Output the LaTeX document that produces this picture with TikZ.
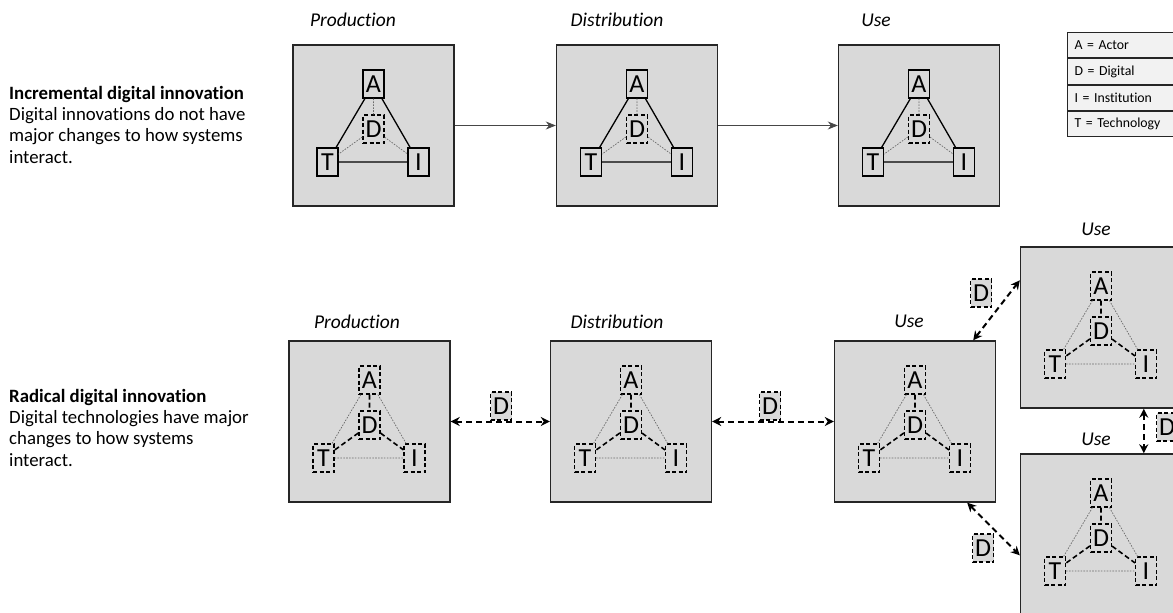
\documentclass[tikz,border=0pt]{standalone}
\usepackage{fontspec}
\setmainfont{Carlito}[Ligatures=NoCommon]
\usetikzlibrary{arrows.meta,calc}
\definecolor{panelgray}{HTML}{D9D9D9}
\definecolor{leggray}{HTML}{F2F2F2}
\definecolor{edgegray}{HTML}{262626}

\tikzset{
  panel/.style={draw=edgegray, line width=1.4pt, fill=panelgray,
    minimum width=161pt, minimum height=161pt, inner sep=0pt},
  letter/.style={font=\fontsize{26}{26}\selectfont, minimum width=21pt,
    minimum height=28pt, inner sep=0pt, line width=1.1pt, draw=black},
  dashletter/.style={letter, dash pattern=on 4pt off 2.5pt},
  dlabel/.style={dashletter, fill=panelgray},
  stagelabel/.style={font=\itshape\fontsize{19.5}{19.5}\selectfont, inner sep=0pt},
  desc/.style={align=left, inner sep=0pt, font=\fontsize{18.8}{21.3}\selectfont},
  legrow/.style={draw=edgegray, line width=1pt, fill=leggray, anchor=north west,
    text width=92pt, align=left, inner xsep=7pt, inner ysep=0pt,
    minimum height=25.3pt, font=\fontsize{13.8}{13.8}\selectfont},
  firm/.style={line width=1.3pt, black},
  hairdot/.style={line width=0.7pt, gray!85!black, dash pattern=on 1.6pt off 1.3pt},
  heavydash/.style={line width=1.6pt, black, dash pattern=on 5pt off 3pt},
  flow/.style={line width=0.9pt, gray!55!black, -{Stealth[length=10pt,width=8pt]}},
  dlink/.style={line width=2pt, black, dash pattern=on 6pt off 4pt,
    {Stealth[length=9pt,width=9pt]}-{Stealth[length=9pt,width=9pt]}},
}

% #1 name, #2 centre x, #3 top y, #4 style of A/T/I, #5 outer edges, #6 edges to D
\newcommand\triad[6]{%
  \node[panel] (#1) at (#2,#3+80.5) {};
  \node[#4] (#1A) at (#2,#3+39) {A};
  \node[dashletter] (#1D) at (#2,#3+84) {D};
  \node[#4] (#1T) at (#2-46,#3+117) {T};
  \node[#4] (#1I) at (#2+45,#3+117) {I};
  \draw[#5] (#1A) -- (#1T) (#1A) -- (#1I) (#1T) -- (#1I);
  \draw[#6] (#1A) -- (#1D) (#1D) -- (#1T) (#1D) -- (#1I);
}

\begin{document}
\begin{tikzpicture}[x=1pt, y=-1pt]
\useasboundingbox (0,0) rectangle (1173,613);
\clip (0,0) rectangle (1173,613);

% descriptions
\node[desc, anchor=north west] (inc) at (9,86)
  {\textbf{Incremental digital innovation}\\Digital innovations do not have\\major changes to how systems\\interact.};
\node[desc, anchor=north west] (rad) at (9,389)
  {\textbf{Radical digital innovation}\\Digital technologies have major\\changes to how systems\\interact.};

% incremental chain
\node[stagelabel] (lp1) at (353,20) {Production};
\node[stagelabel] (ld1) at (617,20) {Distribution};
\node[stagelabel] (lu1) at (876,20) {Use};
\triad{p1}{373.5}{45}{letter}{firm}{hairdot}
\triad{p2}{637}{45}{letter}{firm}{hairdot}
\triad{p3}{919}{45}{letter}{firm}{hairdot}
\draw[flow] (p1.east) -- (p2.west);
\draw[flow] (p2.east) -- (p3.west);

% legend
\node[legrow] (legA) at (1067,32) {A = Actor};
\node[legrow] (legD) at (legA.south west) {D = Digital};
\node[legrow] (legI) at (legD.south west) {I = Institution};
\node[legrow] (legT) at (legI.south west) {T = Technology};

% radical network
\node[stagelabel] (lp2) at (357,322) {Production};
\node[stagelabel] (ld2) at (617,322) {Distribution};
\node[stagelabel] (lu2) at (909,321) {Use};
\node[stagelabel] (lu3) at (1096,229) {Use};
\node[stagelabel] (lu4) at (1096,439) {Use};
\triad{q1}{369.5}{341}{dashletter}{hairdot}{heavydash}
\triad{q2}{631}{341}{dashletter}{hairdot}{heavydash}
\triad{q3}{915}{341}{dashletter}{hairdot}{heavydash}
\triad{q4}{1101}{247}{dashletter}{hairdot}{heavydash}
\triad{q5}{1101}{454}{dashletter}{hairdot}{heavydash}

\draw[dlink] (q1.east) -- (q2.west);
\draw[dlink] (q2.east) -- (q3.west);
\draw[dlink] ($(q3.north east)+(-23,0)$) -- ($(q4.north west)+(0,34)$);
\draw[dlink] ($(q3.south east)+(-29,0)$) -- ($(q5.north west)+(0,102)$);
\draw[dlink] ($(q4.south west)+(124,0)$) -- ($(q5.north west)+(124,0)$);

\node[dlabel] (d1) at (501,406) {D};
\node[dlabel] (d2) at (770,406) {D};
\node[dlabel] (d3) at (981,293) {D};
\node[dlabel] (d4) at (983,548) {D};
\node[dlabel] (d5) at (1167,427) {D};
\end{tikzpicture}
\end{document}
